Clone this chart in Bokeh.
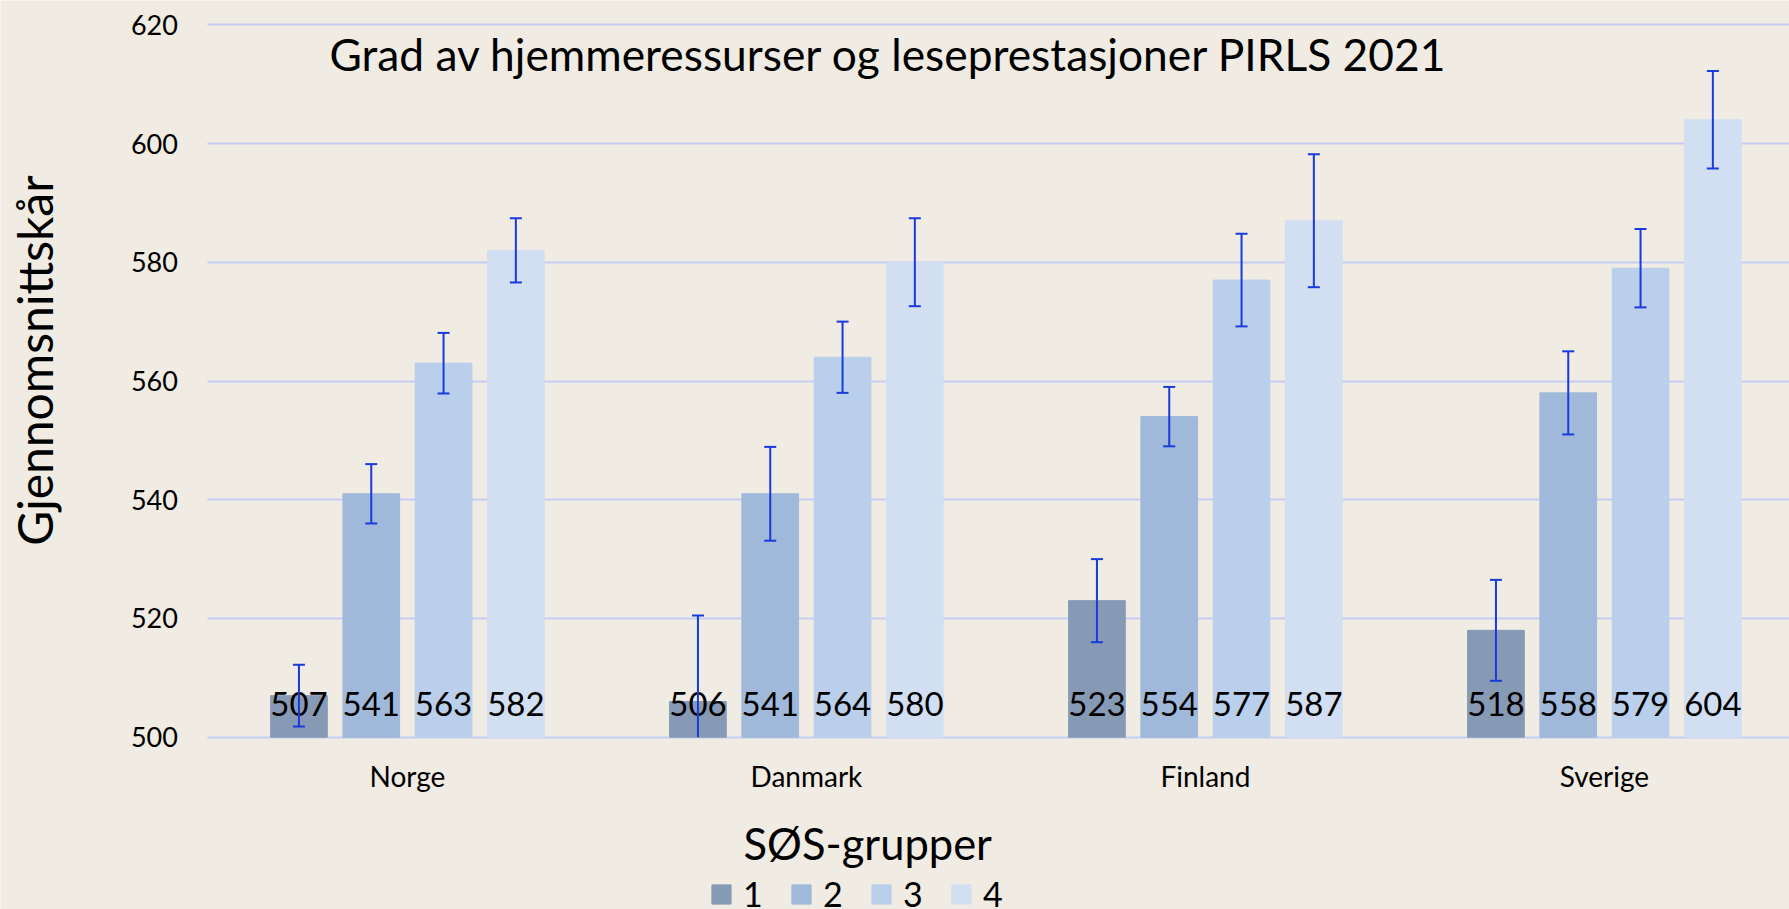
import math
from bokeh.plotting import figure
from bokeh.models import (Range1d, FixedTicker, Legend, LegendItem, Label,
                          ColumnDataSource)
from bokeh.transform import dodge
from bokeh.core.properties import value
from bokeh.embed import file_html
from bokeh.resources import INLINE

# ---------------- data ----------------
countries = ["Norge", "Danmark", "Finland", "Sverige"]
groups = ["1", "2", "3", "4"]
sos1 = [507, 506, 523, 518]
sos2 = [541, 541, 554, 558]
sos3 = [563, 564, 577, 579]
sos4 = [582, 580, 587, 604]
err1 = [5.2, 14.5, 7.0, 8.5]
err2 = [5.0, 7.9, 5.0, 7.0]
err3 = [5.1, 6.0, 7.8, 6.6]
err4 = [5.4, 7.4, 11.2, 8.2]
y_ticks = [500, 520, 540, 560, 580, 600, 620]
title_text = "Grad av hjemmeressurser og leseprestasjoner PIRLS 2021"
y_title = "Gjennomsnittskår"
legend_title = "SØS-grupper"

# ---------------- style / layout ----------------
FONT = "Lato"
BG = "#f0ebe3"
GRID = "#c5cdf5"
ERR = "#1a3adb"
COLORS = ["#879ab5", "#a0b9da", "#bacfeb", "#d2dff2"]
STEP = 0.1812
BAR_W = 0.142
OFFSETS = [-1.5 * STEP, -0.5 * STEP, 0.5 * STEP, 1.5 * STEP]

W, H = 1789, 909
BASE = y_ticks[0]
TOP = y_ticks[-1]
BASE_PX, TOP_PX = 736.7, 24.3      # screen rows of the 500 and 620 lines
PX_PER_UNIT = (BASE_PX - TOP_PX) / (TOP - BASE)
FIRST_CAT_PX = 406.9               # screen column of the first country
PX_PER_CAT = 399.0
y_lo = BASE - (H - BASE_PX) / PX_PER_UNIT
y_hi = TOP + TOP_PX / PX_PER_UNIT
x_lo = -FIRST_CAT_PX / PX_PER_CAT
x_hi = (W - FIRST_CAT_PX) / PX_PER_CAT
PLOT_LEFT = -0.5                   # left edge of the plotting area (data)
EM = 0.4                           # baseline correction of the svg text

xi = list(range(len(countries)))
series = [sos1, sos2, sos3, sos4]
errors = [err1, err2, err3, err4]

p = figure(width=W, height=H,
           x_range=Range1d(x_lo, x_hi), y_range=Range1d(y_lo, y_hi),
           output_backend="svg", toolbar_location=None,
           min_border=0, min_border_left=0, min_border_right=0,
           min_border_top=0, min_border_bottom=0,
           background_fill_color=BG, border_fill_color=BG,
           outline_line_color=None)

renderers = []
for k in range(4):
    vals = series[k]
    errs = errors[k]
    lo = [v - e for v, e in zip(vals, errs)]
    src = ColumnDataSource(dict(
        xi=xi,
        top=vals,
        base=[BASE] * len(vals),
        upper=[v + e for v, e in zip(vals, errs)],
        lower=[max(l, BASE) for l in lo],
        lower_cap=[l if l >= BASE else float("nan") for l in lo],
        label=[str(v) for v in vals],
    ))
    xs = dodge("xi", OFFSETS[k])
    r = p.vbar(x=xs, top="top", bottom="base", width=BAR_W, source=src,
               fill_color=COLORS[k], line_color=COLORS[k], line_width=1)
    renderers.append(r)
    p.text(x=xs, y="base", text="label", source=src,
           text_align="center", text_baseline="alphabetic", y_offset=-33,
           text_font=value(FONT), text_font_size="33px", text_color="#000000")
    p.segment(x0=xs, x1=xs, y0="lower", y1="upper", source=src,
              line_color=ERR, line_width=2)
    p.scatter(x=xs, y="upper", source=src, marker="dash", size=12,
              line_color=ERR, line_width=2)
    p.scatter(x=xs, y="lower_cap", source=src, marker="dash", size=12,
              line_color=ERR, line_width=2)

# axes (drawn at fixed positions inside the canvas)
p.yaxis.ticker = FixedTicker(ticks=y_ticks)
p.yaxis.fixed_location = PLOT_LEFT
p.xaxis.ticker = FixedTicker(ticks=xi)
p.xaxis.fixed_location = BASE
p.xaxis.major_label_overrides = {i: c for i, c in zip(xi, countries)}
for ax in (p.xaxis, p.yaxis):
    ax.axis_line_color = None
    ax.major_tick_line_color = None
    ax.minor_tick_line_color = None
    ax.major_tick_out = 0
    ax.major_tick_in = 0
    ax.minor_tick_out = 0
    ax.minor_tick_in = 0
    ax.major_label_text_font = FONT
    ax.major_label_text_color = "#000000"
p.yaxis.major_label_text_font_size = "27px"
p.xaxis.major_label_text_font_size = "28px"
p.yaxis.major_label_standoff = 30
p.xaxis.major_label_standoff = 22

# horizontal grid lines only across the plotting area
p.xgrid.grid_line_color = None
yg = p.ygrid[0]
yg.ticker = FixedTicker(ticks=y_ticks)
if "cross_bounds" in yg.properties():
    yg.cross_bounds = (PLOT_LEFT, x_hi)
    yg.grid_line_color = GRID
    yg.grid_line_width = 2
else:
    yg.grid_line_color = None
    p.segment(x0=[PLOT_LEFT] * len(y_ticks), x1=[x_hi] * len(y_ticks),
              y0=y_ticks, y1=y_ticks, line_color=GRID, line_width=2,
              level="underlay")

# chart title inside the plot area
p.add_layout(Label(x=329, y=H - 70.7 + EM * 44.3, x_units="screen",
                   y_units="screen", text=title_text, text_font=FONT,
                   text_font_size="44.3px", text_color="#000000",
                   text_baseline="alphabetic", text_align="left"))

# y axis title
p.add_layout(Label(x=53 - EM * 48, y=H - 360, x_units="screen",
                   y_units="screen", angle=math.pi / 2, text=y_title,
                   text_font=FONT, text_font_size="48px",
                   text_color="#000000", text_baseline="alphabetic",
                   text_align="center"))

# legend title
p.add_layout(Label(x=743, y=H - 860 + EM * 43.5, x_units="screen",
                   y_units="screen", text=legend_title, text_font=FONT,
                   text_font_size="43.5px", text_color="#000000",
                   text_baseline="alphabetic", text_align="left"))

legend = Legend(items=[LegendItem(label=g, renderers=[r])
                       for g, r in zip(groups, renderers)],
                orientation="horizontal", location=(709, -5),
                glyph_width=24, glyph_height=24, label_standoff=10,
                spacing=26, padding=0, margin=0,
                border_line_color=None, background_fill_alpha=0,
                label_text_font=FONT, label_text_font_size="34px",
                label_text_color="#000000")
p.add_layout(legend)

open("out.html", "w").write(file_html(p, INLINE))
